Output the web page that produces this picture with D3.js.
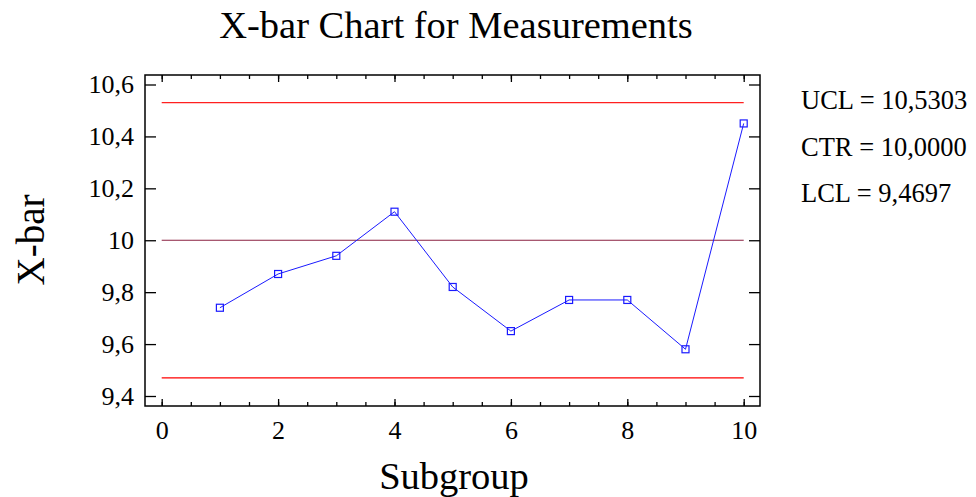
<!doctype html>
<html lang="en">
<head>
<meta charset="utf-8">
<title>X-bar Chart for Measurements</title>
<script src="https://d3js.org/d3.v7.min.js"></script>
<style>
  body { margin: 0; background: #fff; }
  svg text { font-family: "Liberation Serif", "DejaVu Serif", serif; fill: #000; }
  .axis path { stroke: none; }
  .axis line { stroke: #000; stroke-width: 1.3px; }
  .axis text { font-size: 26px; }
</style>
</head>
<body>
<svg id="main" width="976" height="497"></svg>
<script>
// data
let subgroups = [1, 2, 3, 4, 5, 6, 7, 8, 9, 10];
let xbar = [9.74, 9.87, 9.94, 10.11, 9.82, 9.65, 9.77, 9.77, 9.58, 10.45];
let ucl = 10.5303;
let ctr = 10.0000;
let lcl = 9.4697;
let xTicks = [0, 2, 4, 6, 8, 10];
let yTicks = [9.4, 9.6, 9.8, 10, 10.2, 10.4, 10.6];

let svg = d3.select('#main');
let box = {left: 145, right: 760, top: 75, bottom: 406};

let x = d3.scaleLinear().domain([0, 10]).range([161.7, 743.7]);
let y = d3.scaleLinear().domain([9.4, 10.6]).range([396, 84.5]);

let loc = d3.formatLocale({decimal: ",", thousands: ".", grouping: [3], currency: ["", ""]});
let fmtTick = loc.format("~f");
let fmt4 = loc.format(".4f");

// frame
svg.append('rect')
  .attr('x', box.left).attr('y', box.top)
  .attr('width', box.right - box.left).attr('height', box.bottom - box.top)
  .attr('fill', 'none').attr('stroke', '#000').attr('stroke-width', 1.5);

// minor x ticks (every 0.5)
let minor = d3.range(0, 10.01, 0.5);
svg.append('g').attr('class', 'axis')
  .attr('transform', `translate(0,${box.bottom})`)
  .call(d3.axisBottom(x).tickValues(minor).tickSize(-4).tickFormat(''));
svg.append('g').attr('class', 'axis')
  .attr('transform', `translate(0,${box.top})`)
  .call(d3.axisTop(x).tickValues(minor).tickSize(-4).tickFormat(''));

// major x ticks
svg.append('g').attr('class', 'axis')
  .attr('transform', `translate(0,${box.bottom})`)
  .call(d3.axisBottom(x).tickValues(xTicks).tickSize(-7).tickPadding(15).tickFormat(fmtTick));
svg.append('g').attr('class', 'axis')
  .attr('transform', `translate(0,${box.top})`)
  .call(d3.axisTop(x).tickValues(xTicks).tickSize(-7).tickFormat(''));

// y ticks
svg.append('g').attr('class', 'axis')
  .attr('transform', `translate(${box.left},0)`)
  .call(d3.axisLeft(y).tickValues(yTicks).tickSize(-11).tickPadding(11).tickFormat(fmtTick));
svg.append('g').attr('class', 'axis')
  .attr('transform', `translate(${box.right},0)`)
  .call(d3.axisRight(y).tickValues(yTicks).tickSize(-11).tickFormat(''));

// control lines
let limits = [
  {v: ucl, c: '#ff2020'},
  {v: ctr, c: '#8a2040'},
  {v: lcl, c: '#ff0000'}
];
svg.append('g').selectAll('line').data(limits).join('line')
  .attr('x1', x(0)).attr('x2', x(10))
  .attr('y1', d => y(d.v)).attr('y2', d => y(d.v))
  .attr('stroke', d => d.c).attr('stroke-width', 1.2);

// series
let pts = subgroups.map((s, i) => [s, xbar[i]]);
svg.append('path').datum(pts)
  .attr('fill', 'none').attr('stroke', '#1a1aff').attr('stroke-width', 1)
  .attr('d', d3.line().x(d => x(d[0])).y(d => y(d[1])));
svg.append('g').selectAll('rect').data(pts).join('rect')
  .attr('x', d => x(d[0]) - 3.5).attr('y', d => y(d[1]) - 3.5)
  .attr('width', 7).attr('height', 7)
  .attr('fill', 'none').attr('stroke', '#1a1aff').attr('stroke-width', 1.2);

// titles
svg.append('text').attr('x', 456).attr('y', 38).attr('text-anchor', 'middle')
  .attr('font-size', 38.5).text('X-bar Chart for Measurements');
svg.append('text').attr('x', 454).attr('y', 489).attr('text-anchor', 'middle')
  .attr('font-size', 38.5).text('Subgroup');
svg.append('text').attr('transform', 'translate(44,240) rotate(-90)').attr('text-anchor', 'middle')
  .attr('font-size', 39).text('X-bar');

// legend
let legend = [
  'UCL = ' + fmt4(ucl),
  'CTR = ' + fmt4(ctr),
  'LCL = ' + fmt4(lcl)
];
svg.append('g').selectAll('text').data(legend).join('text')
  .attr('x', 801).attr('y', (d, i) => 109 + i * 46.5)
  .attr('font-size', 26.5).text(d => d);
</script>
</body>
</html>
